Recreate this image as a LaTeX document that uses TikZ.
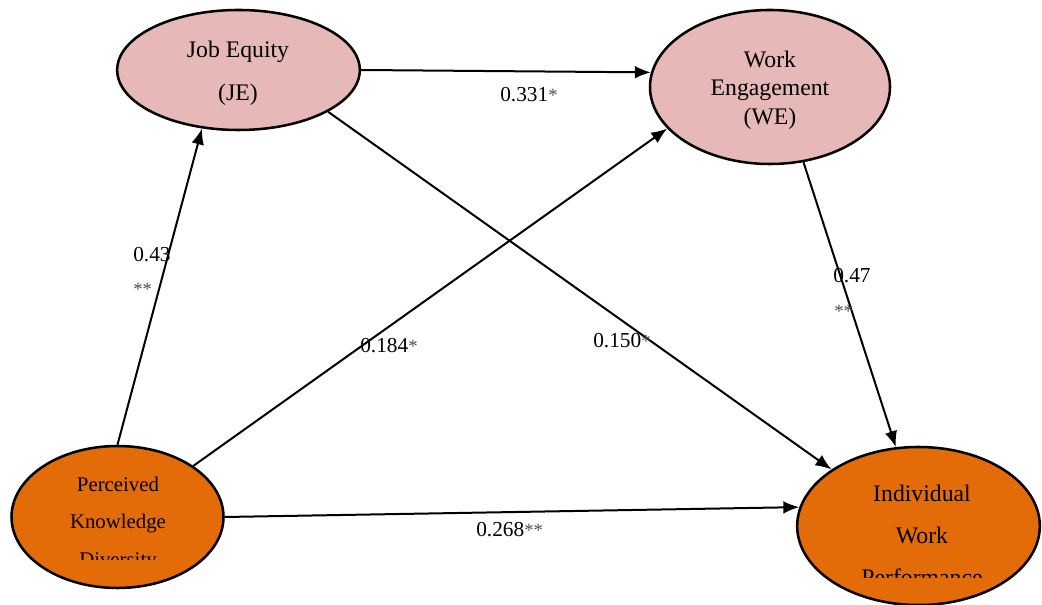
\documentclass[tikz,border=0pt]{standalone}
\usepackage{fontspec}
\setmainfont{Liberation Serif}
\usepackage{tikz}
\usetikzlibrary{
  arrows.meta,
  shapes.geometric,
  positioning
}
\definecolor{LatentPink}{HTML}{E6B8B7}
\definecolor{LatentOrange}{HTML}{E36C09}
\newcommand{\sigstar}[1]{{\color{black!70}\fontsize{14}{14}\selectfont #1}}

\begin{document}
\begin{tikzpicture}[x=0.75pt, y=-0.75pt,
  latent/.style   = {ellipse, draw, line width=1.9pt, inner sep=0pt},
  construct/.style = {align=center, inner sep=0pt},
  effect/.style   = {line width=1.5pt, -{Latex[length=12pt, width=9.5pt]}},
  coef/.style     = {anchor=base west, inner sep=0pt, font=\fontsize{16}{18}\selectfont}
]
  \useasboundingbox (0,0) rectangle (1042,605);

  % Latent constructs
  \node [latent, fill=LatentPink,   minimum width=182pt, minimum height=90pt]    (je)  at (238.5,  70) {};
  \node [latent, fill=LatentPink,   minimum width=180pt, minimum height=115.5pt] (we)  at (770.0,  87) {};
  \node [latent, fill=LatentOrange, minimum width=159pt, minimum height=106.5pt] (pkd) at (117.5, 517) {};
  \node [latent, fill=LatentOrange, minimum width=182pt, minimum height=118.5pt] (iwp) at (918.5, 526) {};

  % Construct names
  \node [construct, font=\fontsize{17.8}{32.2}\selectfont] (je-name) at (238, 73) {Job Equity\\(JE)};
  \node [construct, font=\fontsize{17.8}{21.4}\selectfont] (we-name) at (770, 90) {Work\\Engagement\\(WE)};
  \begin{scope}
    \clip (0,0) rectangle (1042,559);
    \node [construct, font=\fontsize{15.6}{27.8}\selectfont] (pkd-name) at (118, 524) {Perceived\\Knowledge\\Diversity};
  \end{scope}
  \begin{scope}
    \clip (0,0) rectangle (1042,577);
    \node [construct, font=\fontsize{17.8}{31.5}\selectfont] (iwp-name) at (922, 535) {Individual\\Work\\Performance};
  \end{scope}

  % Structural paths
  \draw [effect] (je.0)    -- (we.173);
  \draw [effect] (pkd.90)  -- (je.238);
  \draw [effect] (pkd.34)  -- (we.202);
  \draw [effect] (je.-25)  -- (iwp.147);
  \draw [effect] (we.-66)  -- (iwp.106);
  \draw [effect] (pkd.0)   -- (iwp.171);

  % Path coefficients
  \node [coef] (c-je-we)   at (500, 102) {0.331\sigstar{*}};
  \node [coef] (c-pkd-je)  at (133, 262) {0.43};
  \node [coef] (s-pkd-je)  at (133, 296) {\sigstar{**}};
  \node [coef] (c-pkd-we)  at (360, 353) {0.184\sigstar{*}};
  \node [coef] (c-je-iwp)  at (593, 348) {0.150\sigstar{*}};
  \node [coef] (c-pkd-iwp) at (476, 537) {0.268\sigstar{**}};
  \node [coef] (c-we-iwp)  at (833, 283) {0.47};
  \node [coef] (s-we-iwp)  at (834, 318) {\sigstar{**}};
\end{tikzpicture}
\end{document}
